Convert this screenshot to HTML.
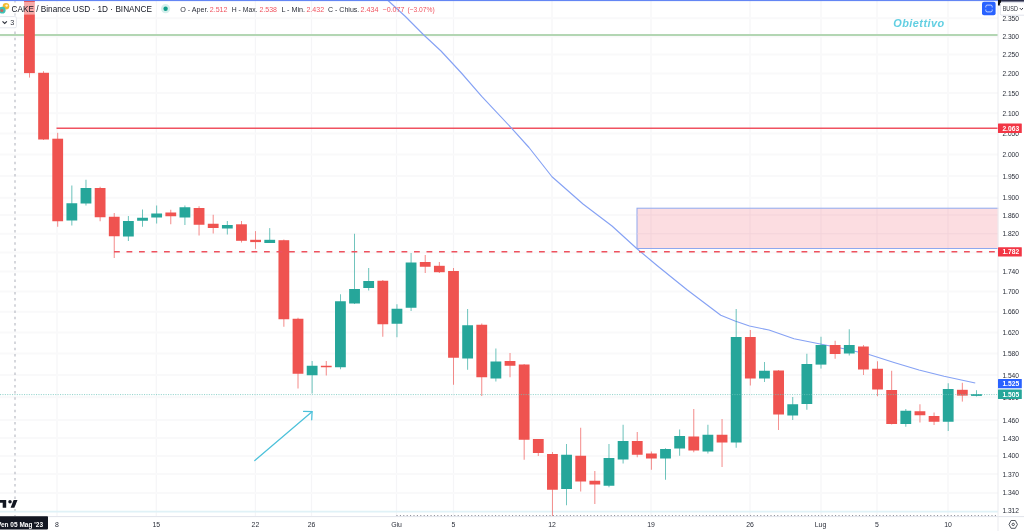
<!DOCTYPE html>
<html lang="it"><head><meta charset="utf-8"><title>CAKE / Binance USD</title>
<style>html,body{margin:0;padding:0;background:#fff;width:1024px;height:531px;overflow:hidden}</style></head>
<body>
<svg width="1024" height="531" viewBox="0 0 1024 531" style="position:absolute;left:0;top:0;will-change:transform">
<rect width="1024" height="531" fill="#fff"/>
<g stroke="#f5f5f7" stroke-width="1.2">
<line x1="57" y1="1" x2="57" y2="516"/>
<line x1="156.25" y1="1" x2="156.25" y2="516"/>
<line x1="255.4" y1="1" x2="255.4" y2="516"/>
<line x1="311.5" y1="1" x2="311.5" y2="516"/>
<line x1="396.5" y1="1" x2="396.5" y2="516"/>
<line x1="453.5" y1="1" x2="453.5" y2="516"/>
<line x1="552" y1="1" x2="552" y2="516"/>
<line x1="651" y1="1" x2="651" y2="516"/>
<line x1="750" y1="1" x2="750" y2="516"/>
<line x1="821" y1="1" x2="821" y2="516"/>
<line x1="877" y1="1" x2="877" y2="516"/>
<line x1="948" y1="1" x2="948" y2="516"/>
</g><g stroke="#f9f9fa" stroke-width="2">
<line x1="0" y1="18.25" x2="998" y2="18.25"/>
<line x1="0" y1="36.5" x2="998" y2="36.5"/>
<line x1="0" y1="54.5" x2="998" y2="54.5"/>
<line x1="0" y1="73.5" x2="998" y2="73.5"/>
<line x1="0" y1="93" x2="998" y2="93"/>
<line x1="0" y1="113.25" x2="998" y2="113.25"/>
<line x1="0" y1="133.5" x2="998" y2="133.5"/>
<line x1="0" y1="154.5" x2="998" y2="154.5"/>
<line x1="0" y1="176" x2="998" y2="176"/>
<line x1="0" y1="197.75" x2="998" y2="197.75"/>
<line x1="0" y1="215" x2="998" y2="215"/>
<line x1="0" y1="233.75" x2="998" y2="233.75"/>
<line x1="0" y1="252.5" x2="998" y2="252.5"/>
<line x1="0" y1="271.5" x2="998" y2="271.5"/>
<line x1="0" y1="291.5" x2="998" y2="291.5"/>
<line x1="0" y1="311.75" x2="998" y2="311.75"/>
<line x1="0" y1="332.5" x2="998" y2="332.5"/>
<line x1="0" y1="353.5" x2="998" y2="353.5"/>
<line x1="0" y1="375" x2="998" y2="375"/>
<line x1="0" y1="397.3" x2="998" y2="397.3"/>
<line x1="0" y1="420" x2="998" y2="420"/>
<line x1="0" y1="438" x2="998" y2="438"/>
<line x1="0" y1="456" x2="998" y2="456"/>
<line x1="0" y1="474" x2="998" y2="474"/>
<line x1="0" y1="493" x2="998" y2="493"/>
</g>
<line x1="15" y1="0.5" x2="15" y2="516" stroke="#b4b7c0" stroke-width="1.1" stroke-dasharray="2.5 3.7"/>
<line x1="0" y1="511.6" x2="998" y2="511.6" stroke="#e0f2f7" stroke-width="1.6"/>
<line x1="0" y1="35" x2="998" y2="35" stroke="#b3d6b3" stroke-width="1.8"/>
<rect x="637" y="208.2" width="380" height="40.3" fill="#fcdde1" stroke="#8fa8ee" stroke-width="1"/>
<g stroke="#f3d3da" stroke-width="1">
<line x1="651" y1="209" x2="651" y2="248"/>
<line x1="750" y1="209" x2="750" y2="248"/>
<line x1="821" y1="209" x2="821" y2="248"/>
<line x1="877" y1="209" x2="877" y2="248"/>
<line x1="948" y1="209" x2="948" y2="248"/>
<line x1="637.5" y1="215" x2="998" y2="215"/>
<line x1="637.5" y1="233.75" x2="998" y2="233.75"/>
</g>
<line x1="56.5" y1="128.3" x2="998" y2="128.3" stroke="#f05260" stroke-width="1.4"/>
<polyline points="387.5,0 405.4,16.5 423.8,35 441,51 461.4,73 481.7,96.3 511.5,128.1 529,147.5 552,176.75 583,204 612,226 637,248.75 657,265.5 687,289.75 720.75,315.25 735,321 749.5,326 769,330 794,338.75 819,343.75 844,348.75 869,354.5 894,362.5 919,370 944,376.25 975.25,383" fill="none" stroke="#86a2f4" stroke-width="1.15" stroke-linejoin="round"/>
<line x1="29.44" y1="-5" x2="29.44" y2="77.6" stroke="#ef5350" stroke-width="0.8" opacity="0.85"/>
<rect x="24.04" y="-5" width="10.80" height="78.10" fill="#ef5350"/>
<line x1="43.57" y1="71.2" x2="43.57" y2="140" stroke="#ef5350" stroke-width="0.8" opacity="0.85"/>
<rect x="38.17" y="72.8" width="10.80" height="66.70" fill="#ef5350"/>
<line x1="57.70" y1="132.8" x2="57.70" y2="226.75" stroke="#ef5350" stroke-width="0.8" opacity="0.85"/>
<rect x="52.30" y="138.7" width="10.80" height="82.55" fill="#ef5350"/>
<line x1="71.84" y1="185.5" x2="71.84" y2="225.5" stroke="#26a69a" stroke-width="0.8" opacity="0.85"/>
<rect x="66.44" y="203.25" width="10.80" height="17.25" fill="#26a69a"/>
<line x1="85.97" y1="179.75" x2="85.97" y2="205.5" stroke="#26a69a" stroke-width="0.8" opacity="0.85"/>
<rect x="80.57" y="188" width="10.80" height="15.50" fill="#26a69a"/>
<line x1="100.11" y1="186.75" x2="100.11" y2="221.25" stroke="#ef5350" stroke-width="0.8" opacity="0.85"/>
<rect x="94.71" y="188" width="10.80" height="29.25" fill="#ef5350"/>
<line x1="114.24" y1="213" x2="114.24" y2="258" stroke="#ef5350" stroke-width="0.8" opacity="0.85"/>
<rect x="108.84" y="216.75" width="10.80" height="19.50" fill="#ef5350"/>
<line x1="128.38" y1="216" x2="128.38" y2="241" stroke="#26a69a" stroke-width="0.8" opacity="0.85"/>
<rect x="122.98" y="221" width="10.80" height="15.50" fill="#26a69a"/>
<line x1="142.52" y1="209.5" x2="142.52" y2="226.75" stroke="#26a69a" stroke-width="0.8" opacity="0.85"/>
<rect x="137.12" y="217.75" width="10.80" height="3.00" fill="#26a69a"/>
<line x1="156.65" y1="205.5" x2="156.65" y2="223.5" stroke="#26a69a" stroke-width="0.8" opacity="0.85"/>
<rect x="151.25" y="213.5" width="10.80" height="4.00" fill="#26a69a"/>
<line x1="170.78" y1="209.75" x2="170.78" y2="224.25" stroke="#ef5350" stroke-width="0.8" opacity="0.85"/>
<rect x="165.38" y="212.5" width="10.80" height="3.75" fill="#ef5350"/>
<line x1="184.92" y1="205.5" x2="184.92" y2="225" stroke="#26a69a" stroke-width="0.8" opacity="0.85"/>
<rect x="179.52" y="207.25" width="10.80" height="10.25" fill="#26a69a"/>
<line x1="199.06" y1="206.25" x2="199.06" y2="235.5" stroke="#ef5350" stroke-width="0.8" opacity="0.85"/>
<rect x="193.66" y="208" width="10.80" height="16.75" fill="#ef5350"/>
<line x1="213.19" y1="214.75" x2="213.19" y2="233.5" stroke="#ef5350" stroke-width="0.8" opacity="0.85"/>
<rect x="207.79" y="223.75" width="10.80" height="4.25" fill="#ef5350"/>
<line x1="227.33" y1="221" x2="227.33" y2="234.5" stroke="#26a69a" stroke-width="0.8" opacity="0.85"/>
<rect x="221.93" y="225" width="10.80" height="3.50" fill="#26a69a"/>
<line x1="241.46" y1="221" x2="241.46" y2="242.5" stroke="#ef5350" stroke-width="0.8" opacity="0.85"/>
<rect x="236.06" y="224.3" width="10.80" height="16.50" fill="#ef5350"/>
<line x1="255.59" y1="231.1" x2="255.59" y2="248.9" stroke="#ef5350" stroke-width="0.8" opacity="0.85"/>
<rect x="250.19" y="239.8" width="10.80" height="2.30" fill="#ef5350"/>
<line x1="269.73" y1="228.1" x2="269.73" y2="243" stroke="#26a69a" stroke-width="0.8" opacity="0.85"/>
<rect x="264.33" y="239.8" width="10.80" height="3.20" fill="#26a69a"/>
<line x1="283.87" y1="239.5" x2="283.87" y2="326.75" stroke="#ef5350" stroke-width="0.8" opacity="0.85"/>
<rect x="278.47" y="240.2" width="10.80" height="79.05" fill="#ef5350"/>
<line x1="298.00" y1="317.75" x2="298.00" y2="388.5" stroke="#ef5350" stroke-width="0.8" opacity="0.85"/>
<rect x="292.60" y="318.75" width="10.80" height="55.00" fill="#ef5350"/>
<line x1="312.13" y1="361" x2="312.13" y2="393.5" stroke="#26a69a" stroke-width="0.8" opacity="0.85"/>
<rect x="306.74" y="365.75" width="10.80" height="9.50" fill="#26a69a"/>
<line x1="326.27" y1="361" x2="326.27" y2="375.5" stroke="#ef5350" stroke-width="0.8" opacity="0.85"/>
<rect x="320.87" y="365.75" width="10.80" height="1.50" fill="#ef5350"/>
<line x1="340.41" y1="294.25" x2="340.41" y2="369.25" stroke="#26a69a" stroke-width="0.8" opacity="0.85"/>
<rect x="335.01" y="301.25" width="10.80" height="66.00" fill="#26a69a"/>
<line x1="354.54" y1="233.75" x2="354.54" y2="304" stroke="#26a69a" stroke-width="0.8" opacity="0.85"/>
<rect x="349.14" y="289" width="10.80" height="14.50" fill="#26a69a"/>
<line x1="368.68" y1="268" x2="368.68" y2="290.5" stroke="#26a69a" stroke-width="0.8" opacity="0.85"/>
<rect x="363.28" y="281" width="10.80" height="7.00" fill="#26a69a"/>
<line x1="382.81" y1="280" x2="382.81" y2="336.75" stroke="#ef5350" stroke-width="0.8" opacity="0.85"/>
<rect x="377.41" y="280.75" width="10.80" height="43.50" fill="#ef5350"/>
<line x1="396.94" y1="304.25" x2="396.94" y2="337.25" stroke="#26a69a" stroke-width="0.8" opacity="0.85"/>
<rect x="391.55" y="308.75" width="10.80" height="15.00" fill="#26a69a"/>
<line x1="411.08" y1="253" x2="411.08" y2="311" stroke="#26a69a" stroke-width="0.8" opacity="0.85"/>
<rect x="405.68" y="262.5" width="10.80" height="45.25" fill="#26a69a"/>
<line x1="425.22" y1="255" x2="425.22" y2="273" stroke="#ef5350" stroke-width="0.8" opacity="0.85"/>
<rect x="419.82" y="262" width="10.80" height="4.75" fill="#ef5350"/>
<line x1="439.35" y1="262" x2="439.35" y2="273" stroke="#ef5350" stroke-width="0.8" opacity="0.85"/>
<rect x="433.95" y="265.8" width="10.80" height="6.40" fill="#ef5350"/>
<line x1="453.49" y1="268" x2="453.49" y2="384.75" stroke="#ef5350" stroke-width="0.8" opacity="0.85"/>
<rect x="448.09" y="271" width="10.80" height="86.75" fill="#ef5350"/>
<line x1="467.62" y1="309" x2="467.62" y2="369.75" stroke="#26a69a" stroke-width="0.8" opacity="0.85"/>
<rect x="462.22" y="325.25" width="10.80" height="33.25" fill="#26a69a"/>
<line x1="481.75" y1="323.5" x2="481.75" y2="396" stroke="#ef5350" stroke-width="0.8" opacity="0.85"/>
<rect x="476.36" y="324.75" width="10.80" height="52.50" fill="#ef5350"/>
<line x1="495.89" y1="348.5" x2="495.89" y2="381.5" stroke="#26a69a" stroke-width="0.8" opacity="0.85"/>
<rect x="490.49" y="361.5" width="10.80" height="17.00" fill="#26a69a"/>
<line x1="510.02" y1="353" x2="510.02" y2="377.25" stroke="#ef5350" stroke-width="0.8" opacity="0.85"/>
<rect x="504.62" y="361" width="10.80" height="4.75" fill="#ef5350"/>
<line x1="524.16" y1="364" x2="524.16" y2="459.75" stroke="#ef5350" stroke-width="0.8" opacity="0.85"/>
<rect x="518.76" y="364.5" width="10.80" height="75.25" fill="#ef5350"/>
<line x1="538.29" y1="439" x2="538.29" y2="456" stroke="#ef5350" stroke-width="0.8" opacity="0.85"/>
<rect x="532.89" y="439" width="10.80" height="14.00" fill="#ef5350"/>
<line x1="552.43" y1="452" x2="552.43" y2="516" stroke="#ef5350" stroke-width="0.8" opacity="0.85"/>
<rect x="547.03" y="454" width="10.80" height="35.75" fill="#ef5350"/>
<line x1="566.56" y1="444" x2="566.56" y2="505.25" stroke="#26a69a" stroke-width="0.8" opacity="0.85"/>
<rect x="561.16" y="454.75" width="10.80" height="34.25" fill="#26a69a"/>
<line x1="580.70" y1="427.75" x2="580.70" y2="491.5" stroke="#ef5350" stroke-width="0.8" opacity="0.85"/>
<rect x="575.30" y="455.75" width="10.80" height="25.75" fill="#ef5350"/>
<line x1="594.83" y1="471" x2="594.83" y2="504" stroke="#ef5350" stroke-width="0.8" opacity="0.85"/>
<rect x="589.43" y="480.75" width="10.80" height="3.75" fill="#ef5350"/>
<line x1="608.97" y1="444" x2="608.97" y2="487.25" stroke="#26a69a" stroke-width="0.8" opacity="0.85"/>
<rect x="603.57" y="458" width="10.80" height="27.75" fill="#26a69a"/>
<line x1="623.10" y1="424.75" x2="623.10" y2="463.5" stroke="#26a69a" stroke-width="0.8" opacity="0.85"/>
<rect x="617.70" y="441" width="10.80" height="18.50" fill="#26a69a"/>
<line x1="637.24" y1="432" x2="637.24" y2="457.25" stroke="#ef5350" stroke-width="0.8" opacity="0.85"/>
<rect x="631.84" y="441" width="10.80" height="13.75" fill="#ef5350"/>
<line x1="651.38" y1="451.5" x2="651.38" y2="469.75" stroke="#ef5350" stroke-width="0.8" opacity="0.85"/>
<rect x="645.98" y="453.5" width="10.80" height="5.00" fill="#ef5350"/>
<line x1="665.51" y1="448.25" x2="665.51" y2="479.75" stroke="#26a69a" stroke-width="0.8" opacity="0.85"/>
<rect x="660.11" y="449" width="10.80" height="9.50" fill="#26a69a"/>
<line x1="679.64" y1="429.5" x2="679.64" y2="455.75" stroke="#26a69a" stroke-width="0.8" opacity="0.85"/>
<rect x="674.25" y="436" width="10.80" height="12.50" fill="#26a69a"/>
<line x1="693.78" y1="409" x2="693.78" y2="452.25" stroke="#ef5350" stroke-width="0.8" opacity="0.85"/>
<rect x="688.38" y="436.5" width="10.80" height="14.00" fill="#ef5350"/>
<line x1="707.91" y1="424.75" x2="707.91" y2="453.5" stroke="#26a69a" stroke-width="0.8" opacity="0.85"/>
<rect x="702.51" y="434.75" width="10.80" height="16.75" fill="#26a69a"/>
<line x1="722.05" y1="419" x2="722.05" y2="467" stroke="#ef5350" stroke-width="0.8" opacity="0.85"/>
<rect x="716.65" y="434.75" width="10.80" height="7.75" fill="#ef5350"/>
<line x1="736.18" y1="309" x2="736.18" y2="447.75" stroke="#26a69a" stroke-width="0.8" opacity="0.85"/>
<rect x="730.78" y="337" width="10.80" height="105.50" fill="#26a69a"/>
<line x1="750.32" y1="330" x2="750.32" y2="385.5" stroke="#ef5350" stroke-width="0.8" opacity="0.85"/>
<rect x="744.92" y="337" width="10.80" height="41.50" fill="#ef5350"/>
<line x1="764.45" y1="362" x2="764.45" y2="382" stroke="#26a69a" stroke-width="0.8" opacity="0.85"/>
<rect x="759.05" y="370.75" width="10.80" height="7.75" fill="#26a69a"/>
<line x1="778.59" y1="370" x2="778.59" y2="430" stroke="#ef5350" stroke-width="0.8" opacity="0.85"/>
<rect x="773.19" y="370.5" width="10.80" height="44.00" fill="#ef5350"/>
<line x1="792.72" y1="397" x2="792.72" y2="420" stroke="#26a69a" stroke-width="0.8" opacity="0.85"/>
<rect x="787.32" y="404.25" width="10.80" height="11.25" fill="#26a69a"/>
<line x1="806.86" y1="353.75" x2="806.86" y2="409.75" stroke="#26a69a" stroke-width="0.8" opacity="0.85"/>
<rect x="801.46" y="364" width="10.80" height="40.00" fill="#26a69a"/>
<line x1="820.99" y1="336.75" x2="820.99" y2="368.6" stroke="#26a69a" stroke-width="0.8" opacity="0.85"/>
<rect x="815.59" y="345" width="10.80" height="19.60" fill="#26a69a"/>
<line x1="835.13" y1="340.75" x2="835.13" y2="358.75" stroke="#ef5350" stroke-width="0.8" opacity="0.85"/>
<rect x="829.73" y="345" width="10.80" height="9.00" fill="#ef5350"/>
<line x1="849.26" y1="329.25" x2="849.26" y2="355.5" stroke="#26a69a" stroke-width="0.8" opacity="0.85"/>
<rect x="843.87" y="345" width="10.80" height="8.50" fill="#26a69a"/>
<line x1="863.40" y1="345" x2="863.40" y2="375" stroke="#ef5350" stroke-width="0.8" opacity="0.85"/>
<rect x="858.00" y="346.5" width="10.80" height="23.00" fill="#ef5350"/>
<line x1="877.53" y1="361.25" x2="877.53" y2="396.25" stroke="#ef5350" stroke-width="0.8" opacity="0.85"/>
<rect x="872.13" y="368.75" width="10.80" height="20.75" fill="#ef5350"/>
<line x1="891.67" y1="370.75" x2="891.67" y2="424.5" stroke="#ef5350" stroke-width="0.8" opacity="0.85"/>
<rect x="886.27" y="390" width="10.80" height="34.00" fill="#ef5350"/>
<line x1="905.80" y1="409" x2="905.80" y2="426.75" stroke="#26a69a" stroke-width="0.8" opacity="0.85"/>
<rect x="900.40" y="410.75" width="10.80" height="13.25" fill="#26a69a"/>
<line x1="919.94" y1="404.25" x2="919.94" y2="422.5" stroke="#ef5350" stroke-width="0.8" opacity="0.85"/>
<rect x="914.54" y="411.25" width="10.80" height="4.00" fill="#ef5350"/>
<line x1="934.07" y1="412.5" x2="934.07" y2="425" stroke="#ef5350" stroke-width="0.8" opacity="0.85"/>
<rect x="928.67" y="416" width="10.80" height="5.75" fill="#ef5350"/>
<line x1="948.21" y1="383.25" x2="948.21" y2="431" stroke="#26a69a" stroke-width="0.8" opacity="0.85"/>
<rect x="942.81" y="389" width="10.80" height="32.75" fill="#26a69a"/>
<line x1="962.34" y1="382.8" x2="962.34" y2="401.6" stroke="#ef5350" stroke-width="0.8" opacity="0.85"/>
<rect x="956.94" y="389.8" width="10.80" height="5.80" fill="#ef5350"/>
<line x1="976.48" y1="390.2" x2="976.48" y2="396.5" stroke="#26a69a" stroke-width="0.8" opacity="0.85"/>
<rect x="971.08" y="394.1" width="10.80" height="1.80" fill="#26a69a"/>
<line x1="0" y1="394.6" x2="998" y2="394.6" stroke="#6cc3ba" stroke-width="1" stroke-dasharray="1.1 1.3" opacity="0.75"/>
<line x1="114" y1="251.7" x2="998" y2="251.7" stroke="#ee525e" stroke-width="1.5" stroke-dasharray="5.8 6.7"/>
<g stroke="#4cc1da" stroke-width="1.25" fill="none" stroke-linecap="round"><line x1="254.8" y1="460.6" x2="312" y2="411.8"/><polyline points="303.6,411.4 312.1,411.6 311.7,419.8"/></g>
<line x1="396.5" y1="515.7" x2="996" y2="515.7" stroke="#6a6d78" stroke-width="1" stroke-dasharray="1 2.4"/>
<line x1="0" y1="516.6" x2="1024" y2="516.6" stroke="#e0e3eb" stroke-width="1"/>
<rect x="998.3" y="0" width="26" height="516" fill="#fff"/>
<line x1="998" y1="0" x2="998" y2="531" stroke="#eaebef" stroke-width="1"/>
<rect x="0" y="0" width="1024" height="1.1" fill="#6486f4"/>
<rect x="998" y="0" width="26" height="1.6" fill="#2a2e4a"/>
<rect x="998" y="0" width="3" height="5.5" fill="#0c0e15"/>
<g font-family="Liberation Sans, Arial, sans-serif" font-size="6.9" fill="#2a2e39" text-anchor="start">
<text x="1002.4" y="20.75" textLength="16.6" lengthAdjust="spacingAndGlyphs">2.350</text>
<text x="1002.4" y="39.00" textLength="16.6" lengthAdjust="spacingAndGlyphs">2.300</text>
<text x="1002.4" y="57.00" textLength="16.6" lengthAdjust="spacingAndGlyphs">2.250</text>
<text x="1002.4" y="76.25" textLength="16.6" lengthAdjust="spacingAndGlyphs">2.200</text>
<text x="1002.4" y="95.50" textLength="16.6" lengthAdjust="spacingAndGlyphs">2.150</text>
<text x="1002.4" y="115.75" textLength="16.6" lengthAdjust="spacingAndGlyphs">2.100</text>
<text x="1002.4" y="135.90" textLength="16.6" lengthAdjust="spacingAndGlyphs">2.050</text>
<text x="1002.4" y="156.75" textLength="16.6" lengthAdjust="spacingAndGlyphs">2.000</text>
<text x="1002.4" y="178.50" textLength="16.6" lengthAdjust="spacingAndGlyphs">1.950</text>
<text x="1002.4" y="200.00" textLength="16.6" lengthAdjust="spacingAndGlyphs">1.900</text>
<text x="1002.4" y="217.50" textLength="16.6" lengthAdjust="spacingAndGlyphs">1.860</text>
<text x="1002.4" y="236.25" textLength="16.6" lengthAdjust="spacingAndGlyphs">1.820</text>
<text x="1002.4" y="274.00" textLength="16.6" lengthAdjust="spacingAndGlyphs">1.740</text>
<text x="1002.4" y="294.00" textLength="16.6" lengthAdjust="spacingAndGlyphs">1.700</text>
<text x="1002.4" y="314.25" textLength="16.6" lengthAdjust="spacingAndGlyphs">1.660</text>
<text x="1002.4" y="335.00" textLength="16.6" lengthAdjust="spacingAndGlyphs">1.620</text>
<text x="1002.4" y="356.00" textLength="16.6" lengthAdjust="spacingAndGlyphs">1.580</text>
<text x="1002.4" y="377.75" textLength="16.6" lengthAdjust="spacingAndGlyphs">1.540</text>
<text x="1002.4" y="399.90" textLength="16.6" lengthAdjust="spacingAndGlyphs">1.500</text>
<text x="1002.4" y="422.50" textLength="16.6" lengthAdjust="spacingAndGlyphs">1.460</text>
<text x="1002.4" y="440.70" textLength="16.6" lengthAdjust="spacingAndGlyphs">1.430</text>
<text x="1002.4" y="458.30" textLength="16.6" lengthAdjust="spacingAndGlyphs">1.400</text>
<text x="1002.4" y="476.50" textLength="16.6" lengthAdjust="spacingAndGlyphs">1.370</text>
<text x="1002.4" y="495.30" textLength="16.6" lengthAdjust="spacingAndGlyphs">1.340</text>
<text x="1002.4" y="512.70" textLength="16.6" lengthAdjust="spacingAndGlyphs">1.312</text>
</g>
<rect x="998" y="123.6" width="23.8" height="9.400000000000006" fill="#f23645" rx="0.5"/>
<text x="1002.4" y="130.80" font-family="Liberation Sans, Arial, sans-serif" font-size="6.9" font-weight="bold" fill="#fff" textLength="16.8" lengthAdjust="spacingAndGlyphs">2.063</text>
<rect x="998" y="247.2" width="23.8" height="9.400000000000034" fill="#f23645" rx="0.5"/>
<text x="1002.4" y="254.40" font-family="Liberation Sans, Arial, sans-serif" font-size="6.9" font-weight="bold" fill="#fff" textLength="16.8" lengthAdjust="spacingAndGlyphs">1.782</text>
<rect x="998" y="379" width="23.8" height="9.300000000000011" fill="#2962ff" rx="0.5"/>
<text x="1002.4" y="386.15" font-family="Liberation Sans, Arial, sans-serif" font-size="6.9" font-weight="bold" fill="#fff" textLength="16.8" lengthAdjust="spacingAndGlyphs">1.525</text>
<rect x="998" y="389.6" width="23.8" height="9.299999999999955" fill="#26a69a" rx="0.5"/>
<text x="1002.4" y="396.75" font-family="Liberation Sans, Arial, sans-serif" font-size="6.9" font-weight="bold" fill="#fff" textLength="16.8" lengthAdjust="spacingAndGlyphs">1.505</text>
<g font-family="Liberation Sans, Arial, sans-serif" font-size="6.9" fill="#2a2e39" text-anchor="middle">
<text x="57" y="526.5">8</text>
<text x="156.25" y="526.5">15</text>
<text x="255.4" y="526.5">22</text>
<text x="311.5" y="526.5">26</text>
<text x="396.5" y="526.5">Giu</text>
<text x="453.5" y="526.5">5</text>
<text x="552" y="526.5">12</text>
<text x="651" y="526.5">19</text>
<text x="750" y="526.5">26</text>
<text x="820.5" y="526.5">Lug</text>
<text x="877" y="526.5">5</text>
<text x="948" y="526.5">10</text>
</g>
<rect x="-2" y="516.3" width="50" height="13.1" fill="#131722" rx="0.8"/>
<text x="-3" y="526.6" font-family="Liberation Sans, Arial, sans-serif" font-size="7" font-weight="bold" fill="#fff" textLength="46" lengthAdjust="spacingAndGlyphs">Ven 05 Mag '23</text>
<g transform="translate(1013.2 524.4)" fill="none" stroke="#2a2e39" stroke-width="0.8"><polygon points="-4.2,0 -2.1,-3.9 2.1,-3.9 4.2,0 2.1,3.9 -2.1,3.9"/><circle r="1.2"/></g>
<g fill="#131722"><path d="M-1 500H6.2V507.8H2.7V502.8H-1Z"/><circle cx="10" cy="501.7" r="1.75"/><path d="M13.6 500H17.5L14.3 507.8H10.6Z"/></g>
<rect x="0" y="2" width="156" height="12.6" fill="#fff" opacity="0.5"/>
<circle cx="6" cy="6.3" r="3.3" fill="#f3ba2f"/><circle cx="6.6" cy="5.6" r="1.2" fill="#fff6d0"/>
<circle cx="2.2" cy="10.2" r="3.4" fill="#3fc1b5"/><circle cx="1.8" cy="10.4" r="1.5" fill="#c8645a"/>
<text x="11.5" y="12.3" font-family="Liberation Sans, Arial, sans-serif" font-size="9.3" fill="#131722" textLength="140.5" lengthAdjust="spacingAndGlyphs">CAKE / Binance USD · 1D · BINANCE</text>
<circle cx="165.6" cy="8.7" r="4.6" fill="#d5efec"/><circle cx="165.6" cy="8.7" r="2.2" fill="#0f9d8a"/>
<text x="180.2" y="12" font-family="Liberation Sans, Arial, sans-serif" font-size="7.2" fill="#2a2e39" textLength="28.4" lengthAdjust="spacingAndGlyphs">O - Aper.</text>
<text x="209.8" y="12" font-family="Liberation Sans, Arial, sans-serif" font-size="7.2" fill="#f0535f" textLength="17.7" lengthAdjust="spacingAndGlyphs">2.512</text>
<text x="231.7" y="12" font-family="Liberation Sans, Arial, sans-serif" font-size="7.2" fill="#2a2e39" textLength="25.8" lengthAdjust="spacingAndGlyphs">H - Max.</text>
<text x="259.5" y="12" font-family="Liberation Sans, Arial, sans-serif" font-size="7.2" fill="#f0535f" textLength="17.5" lengthAdjust="spacingAndGlyphs">2.538</text>
<text x="281.4" y="12" font-family="Liberation Sans, Arial, sans-serif" font-size="7.2" fill="#2a2e39" textLength="23.7" lengthAdjust="spacingAndGlyphs">L - Min.</text>
<text x="306.4" y="12" font-family="Liberation Sans, Arial, sans-serif" font-size="7.2" fill="#f0535f" textLength="17.7" lengthAdjust="spacingAndGlyphs">2.432</text>
<text x="328" y="12" font-family="Liberation Sans, Arial, sans-serif" font-size="7.2" fill="#2a2e39" textLength="31.3" lengthAdjust="spacingAndGlyphs">C - Chius.</text>
<text x="360.5" y="12" font-family="Liberation Sans, Arial, sans-serif" font-size="7.2" fill="#f0535f" textLength="17.9" lengthAdjust="spacingAndGlyphs">2.434</text>
<text x="382.5" y="12" font-family="Liberation Sans, Arial, sans-serif" font-size="7.2" fill="#f0535f" textLength="21.9" lengthAdjust="spacingAndGlyphs">−0.077</text>
<text x="407.4" y="12" font-family="Liberation Sans, Arial, sans-serif" font-size="7.2" fill="#f0535f" textLength="27.3" lengthAdjust="spacingAndGlyphs">(−3.07%)</text>
<rect x="-2" y="16.6" width="18.4" height="11.2" rx="1.5" fill="#fff" stroke="#e6e8ee" stroke-width="1"/>
<polyline points="2.5,21.3 4.7,23.4 6.9,21.3" fill="none" stroke="#2a2e39" stroke-width="1.1"/>
<text x="10.3" y="25" font-family="Liberation Sans, Arial, sans-serif" font-size="7.2" fill="#2a2e39">3</text>
<text x="893.2" y="27" font-family="Liberation Sans, Arial, sans-serif" font-size="10.9" font-style="italic" font-weight="bold" fill="#62cfe2" textLength="51" lengthAdjust="spacing" lengthAdjust="spacingAndGlyphs">Obiettivo</text>
<rect x="982" y="1.8" width="13.6" height="13.4" rx="2" fill="#2962ff"/>
<g fill="none" stroke="#fff" stroke-width="0.75" opacity="0.92"><path d="M985.8 7.5V6.5Q985.8 5.1 987.2 5.1H990.8Q992.2 5.1 992.2 6.5V7.5M992.2 9.5V10.5Q992.2 11.9 990.8 11.9H987.2Q985.8 11.9 985.8 10.5V9.5"/></g>
<rect x="1000.3" y="2.6" width="26" height="12.6" rx="1.5" fill="#fff" stroke="#e0e3eb" stroke-width="1"/>
<text x="1002.7" y="11.1" font-family="Liberation Sans, Arial, sans-serif" font-size="6.9" fill="#2a2e39" textLength="15.2" lengthAdjust="spacingAndGlyphs">BUSD</text>
<polyline points="1019.8,8.1 1021.4,9.7 1023,8.1" fill="none" stroke="#2a2e39" stroke-width="1"/>
</svg>
</body></html>
